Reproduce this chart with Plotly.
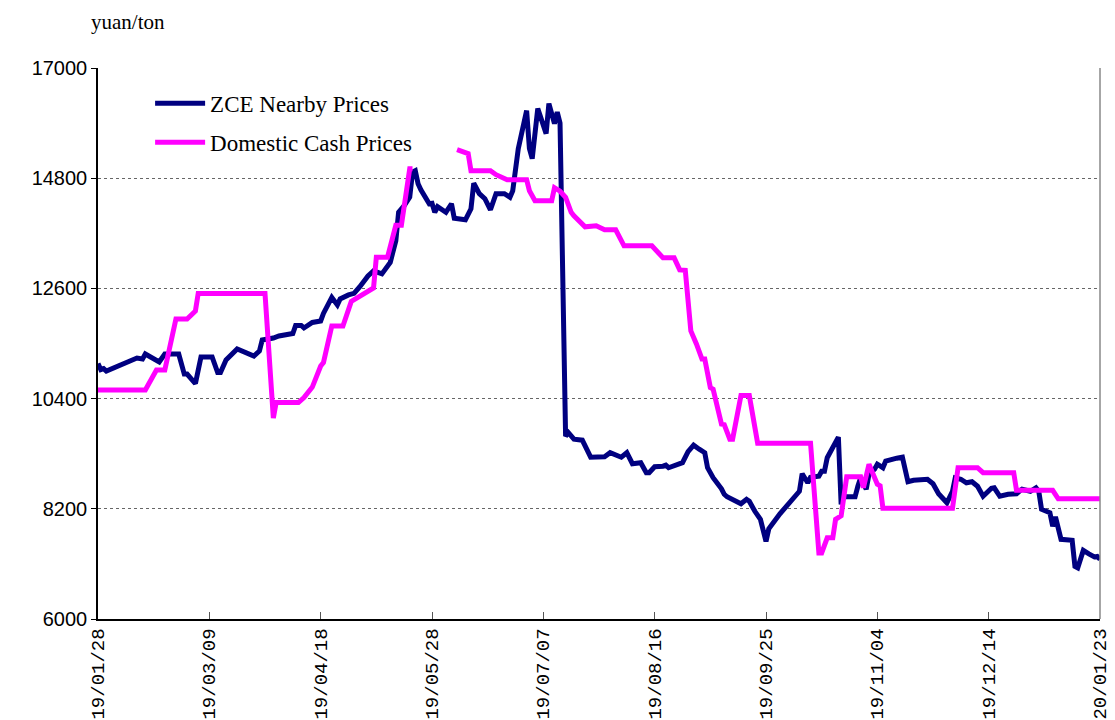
import plotly.graph_objects as go

# ZCE nearby futures prices (yuan/ton)
zce_dates = [
    "2019-01-28", "2019-01-29", "2019-01-30", "2019-01-31", "2019-02-11", "2019-02-13", "2019-02-14",
    "2019-02-19", "2019-02-21", "2019-02-26", "2019-02-28", "2019-03-01", "2019-03-04", "2019-03-06",
    "2019-03-10", "2019-03-12", "2019-03-13", "2019-03-15", "2019-03-19", "2019-03-25", "2019-03-27",
    "2019-03-28", "2019-04-01", "2019-04-03", "2019-04-08", "2019-04-09", "2019-04-11", "2019-04-12",
    "2019-04-15", "2019-04-18", "2019-04-19", "2019-04-22", "2019-04-24", "2019-04-25", "2019-04-28",
    "2019-04-30", "2019-05-02", "2019-05-05", "2019-05-07", "2019-05-10", "2019-05-13", "2019-05-15",
    "2019-05-16", "2019-05-18", "2019-05-20", "2019-05-21", "2019-05-22", "2019-05-23", "2019-05-24",
    "2019-05-27", "2019-05-28", "2019-05-29", "2019-05-30", "2019-06-02", "2019-06-04", "2019-06-05",
    "2019-06-09", "2019-06-11", "2019-06-12", "2019-06-14", "2019-06-16", "2019-06-18", "2019-06-20",
    "2019-06-23", "2019-06-25", "2019-06-26", "2019-06-28", "2019-07-01", "2019-07-02", "2019-07-03",
    "2019-07-05", "2019-07-08", "2019-07-09", "2019-07-11", "2019-07-12", "2019-07-13", "2019-07-15",
    "2019-07-16", "2019-07-18", "2019-07-21", "2019-07-24", "2019-07-29", "2019-07-31", "2019-08-04",
    "2019-08-06", "2019-08-08", "2019-08-11", "2019-08-13", "2019-08-14", "2019-08-16", "2019-08-19",
    "2019-08-20", "2019-08-21", "2019-08-24", "2019-08-26", "2019-08-28", "2019-08-30", "2019-09-01",
    "2019-09-03", "2019-09-04", "2019-09-06", "2019-09-09", "2019-09-10", "2019-09-11", "2019-09-16",
    "2019-09-18", "2019-09-19", "2019-09-21", "2019-09-23", "2019-09-25", "2019-09-26", "2019-09-30",
    "2019-10-07", "2019-10-08", "2019-10-10", "2019-10-11", "2019-10-14", "2019-10-15", "2019-10-16",
    "2019-10-17", "2019-10-21", "2019-10-22", "2019-10-23", "2019-10-24", "2019-10-27", "2019-10-28",
    "2019-10-29", "2019-10-31", "2019-11-01", "2019-11-03", "2019-11-04", "2019-11-06", "2019-11-07",
    "2019-11-11", "2019-11-13", "2019-11-15", "2019-11-17", "2019-11-22", "2019-11-24", "2019-11-26",
    "2019-11-28", "2019-11-29", "2019-12-01", "2019-12-02", "2019-12-04", "2019-12-06", "2019-12-08",
    "2019-12-10", "2019-12-12", "2019-12-13", "2019-12-15", "2019-12-16", "2019-12-18", "2019-12-21",
    "2019-12-24", "2019-12-25", "2019-12-26", "2019-12-29", "2019-12-31", "2020-01-01", "2020-01-02",
    "2020-01-05", "2020-01-06", "2020-01-07", "2020-01-08", "2020-01-09", "2020-01-13", "2020-01-14",
    "2020-01-15", "2020-01-17", "2020-01-19", "2020-01-21", "2020-01-22", "2020-01-23",
]
zce_values = [
    11100, 10980, 11000, 10950, 11210, 11190, 11290,
    11130, 11290, 11290, 10890, 10890, 10700, 11230,
    11230, 10920, 10920, 11170, 11390, 11250, 11350,
    11570, 11610, 11650, 11700, 11860, 11860, 11810,
    11920, 11950, 12100, 12420, 12270, 12390, 12470,
    12500, 12630, 12850, 12950, 12890, 13120, 13550,
    14120, 14250, 14420, 14920, 14950, 14690, 14570,
    14290, 14300, 14120, 14230, 14120, 14290, 14000,
    13970, 14190, 14700, 14490, 14390, 14170, 14490,
    14490, 14420, 14550, 15390, 16150, 15390, 15190,
    16190, 15690, 16290, 15890, 16120, 15900, 9650,
    9720, 9590, 9570, 9230, 9240, 9320, 9230,
    9320, 9100, 9120, 8920, 8920, 9040, 9050,
    9070, 9020, 9090, 9120, 9340, 9470, 9390,
    9320, 9020, 8820, 8600, 8490, 8440, 8300,
    8390, 8350, 8150, 7990, 7550, 7800, 8100,
    8550, 8900, 8720, 8830, 8850, 8950, 8950,
    9220, 9630, 8290, 8450, 8440, 8440, 8650,
    8820, 8590, 8890, 8990, 9090, 9020, 9150,
    9210, 9230, 8740, 8770, 8790, 8700, 8500,
    8390, 8320, 8550, 8820, 8790, 8720, 8740,
    8650, 8450, 8500, 8610, 8620, 8450, 8490,
    8500, 8550, 8590, 8550, 8620, 8550, 8190,
    8120, 7850, 8040, 7790, 7590, 7570, 7050,
    7020, 7370, 7300, 7240, 7250, 7190,
]

# Domestic cash prices (yuan/ton); None = missing data
cash_dates = [
    "2019-01-28", "2019-02-14", "2019-02-18", "2019-02-21", "2019-02-25", "2019-03-01", "2019-03-04",
    "2019-03-05", "2019-03-29", "2019-04-01", "2019-04-02", "2019-04-10", "2019-04-12", "2019-04-15",
    "2019-04-18", "2019-04-19", "2019-04-22", "2019-04-26", "2019-04-29", "2019-05-07", "2019-05-08",
    "2019-05-12", "2019-05-15", "2019-05-17", "2019-05-20", "2019-05-21", "2019-05-31", "2019-06-06",
    "2019-06-10", "2019-06-11", "2019-06-18", "2019-06-20", "2019-06-24", "2019-07-01", "2019-07-02",
    "2019-07-04", "2019-07-10", "2019-07-11", "2019-07-13", "2019-07-15", "2019-07-17", "2019-07-18",
    "2019-07-22", "2019-07-26", "2019-07-29", "2019-08-02", "2019-08-05", "2019-08-15", "2019-08-19",
    "2019-08-23", "2019-08-25", "2019-08-27", "2019-08-28", "2019-08-29", "2019-08-31", "2019-09-02",
    "2019-09-03", "2019-09-05", "2019-09-06", "2019-09-09", "2019-09-10", "2019-09-12", "2019-09-13",
    "2019-09-16", "2019-09-19", "2019-09-22", "2019-10-11", "2019-10-14", "2019-10-15", "2019-10-17",
    "2019-10-19", "2019-10-20", "2019-10-22", "2019-10-24", "2019-10-29", "2019-10-30", "2019-11-01",
    "2019-11-04", "2019-11-05", "2019-11-06", "2019-12-01", "2019-12-03", "2019-12-10", "2019-12-12",
    "2019-12-23", "2019-12-24", "2020-01-06", "2020-01-08", "2020-01-23",
]
cash_values = [
    10570, 10570, 10970, 10970, 11990, 11990, 12150,
    12500, 12500, 10010, 10320, 10320, 10420, 10630,
    11050, 11120, 11850, 11850, 12340, 12610, 13220,
    13220, 13860, 13860, 14990, 14990, None, 15370,
    15290, 14950, 14950, 14870, 14770, 14770, 14550,
    14350, 14350, 14610, 14540, 14420, 14120, 14050,
    13830, 13850, 13770, 13770, 13450, 13450, 13210,
    13210, 12970, 12960, 12290, 11750, 11490, 11190,
    11190, 10620, 10590, 9890, 9880, 9590, 9590,
    10460, 10460, 9510, 9510, 7320, 7320, 7620,
    7620, 7990, 8060, 8840, 8840, 8620, 9090,
    8690, 8660, 8210, 8210, 9020, 9020, 8920,
    8920, 8570, 8570, 8400, 8400,
]

x_tick_values = ["2019-01-28", "2019-03-09", "2019-04-18", "2019-05-28", "2019-07-07",
                 "2019-08-16", "2019-09-25", "2019-11-04", "2019-12-14", "2020-01-23"]
x_tick_labels = ["19/01/28", "19/03/09", "19/04/18", "19/05/28", "19/07/07",
                 "19/08/16", "19/09/25", "19/11/04", "19/12/14", "20/01/23"]
y_tick_values = [6000, 8200, 10400, 12600, 14800, 17000]
y_tick_labels = ["6000", "8200", "10400", "12600", "14800", "17000"]

series_names = ["ZCE Nearby Prices", "Domestic Cash Prices"]
unit_label = "yuan/ton"

fig = go.Figure()
fig.add_trace(go.Scatter(
    x=zce_dates, y=zce_values, mode="lines", name=series_names[0],
    line=dict(color="#000080", width=5), legendgroup="a",
))
fig.add_trace(go.Scatter(
    x=cash_dates, y=cash_values, mode="lines", name=series_names[1],
    line=dict(color="#FF00FF", width=5), connectgaps=False, legendgroup="b",
))

fig.update_layout(
    width=1107, height=712,
    margin=dict(l=90, r=15, t=60, b=101),
    paper_bgcolor="white", plot_bgcolor="white",
    showlegend=True,
    legend=dict(
        x=0.052, y=0.975, xanchor="left", yanchor="top",
        bgcolor="rgba(0,0,0,0)", borderwidth=0,
        font=dict(family="Liberation Serif", size=23, color="black"),
        tracegroupgap=6, itemwidth=50,
    ),
    xaxis=dict(
        type="date", range=["2019-01-28", "2020-01-23"], automargin=False,
        tickmode="array", tickvals=x_tick_values, ticktext=x_tick_labels,
        tickangle=-90, ticks="inside", ticklen=7, tickcolor="#555555",
        showgrid=False, showline=True, linecolor="black", linewidth=1.5,
        tickfont=dict(family="Liberation Mono", size=19, color="black"),
        zeroline=False,
    ),
    yaxis=dict(
        range=[6000, 17000], automargin=False,
        tickmode="array", tickvals=y_tick_values, ticktext=y_tick_labels,
        ticks="outside", ticklen=5, tickcolor="black",
        showgrid=True, gridcolor="#666666", griddash="dot", gridwidth=1,
        showline=True, linecolor="black", linewidth=1.5,
        tickfont=dict(family="Liberation Sans", size=20, color="black"),
        zeroline=False,
    ),
    annotations=[dict(
        text=unit_label, xref="paper", yref="paper", x=-0.008, y=1.107,
        xanchor="left", yanchor="top", showarrow=False, borderpad=0,
        font=dict(family="Liberation Serif", size=21, color="black"),
    )],
    shapes=[dict(
        type="line", xref="paper", yref="paper", x0=1, x1=1, y0=0, y1=1,
        line=dict(color="#888888", width=1.5),
    )],
)

fig.write_html("out.html")
